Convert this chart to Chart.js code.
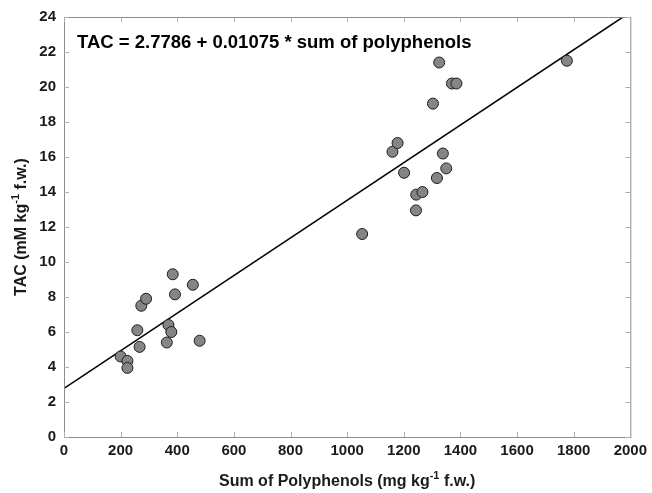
<!DOCTYPE html>
<html>
<head>
<meta charset="utf-8">
<script src="https://cdn.jsdelivr.net/npm/chart.js@4/dist/chart.umd.min.js"></script>
<style>
  html, body { margin: 0; padding: 0; background: #fff; }
  #wrap { width: 652px; height: 493px; }
</style>
</head>
<body>
<div id="wrap"><canvas id="chart"></canvas></div>
<script>
'use strict';

// Messpunkte: Summe Polyphenole (mg/kg) gegen TAC (mM/kg)
const polyphenols = [
  200, 224, 224, 267, 259, 273, 290, 363, 369, 379, 384, 392, 455, 479,
  1053, 1160, 1178, 1201, 1243, 1244, 1266, 1303, 1317, 1325, 1338, 1350,
  1370, 1386, 1776,
];
const tac = [
  4.6, 4.35, 3.95, 5.15, 6.1, 7.5, 7.9, 5.4, 6.4, 6.0, 9.3, 8.15, 8.7, 5.5,
  11.6, 16.3, 16.8, 15.1, 12.95, 13.85, 14.0, 19.05, 14.8, 21.4, 16.2, 15.35,
  20.2, 20.2, 21.5,
];

// Regressionsgerade laut Gleichung im Diagramm
const intercept = 2.7786;
const slope = 0.01075;
const lineX = [0, 1974];

const xTicks = [0, 200, 400, 600, 800, 1000, 1200, 1400, 1600, 1800, 2000];
const yTicks = [0, 2, 4, 6, 8, 10, 12, 14, 16, 18, 20, 22, 24];

const FONT = '"Liberation Sans", Arial, sans-serif';

// Rahmen, innere Ticks, Gleichung und Achsentitel
const framePlugin = {
  id: 'frame',
  afterDraw(chart) {
    const { ctx, chartArea: a, scales } = chart;
    ctx.save();
    ctx.strokeStyle = '#8c8c8c';
    ctx.lineWidth = 1;
    ctx.strokeRect(a.left + 0.5, a.top + 0.5, a.right - a.left, a.bottom - a.top);

    ctx.strokeStyle = '#b0b0b0';
    ctx.beginPath();
    xTicks.forEach(v => {
      const x = Math.round(scales.x.getPixelForValue(v)) + 0.5;
      ctx.moveTo(x, a.bottom);
      ctx.lineTo(x, a.bottom - 5);
      ctx.moveTo(x, a.top);
      ctx.lineTo(x, a.top + 5);
    });
    yTicks.forEach(v => {
      const y = Math.round(scales.y.getPixelForValue(v)) + 0.5;
      ctx.moveTo(a.left, y);
      ctx.lineTo(a.left + 5, y);
      ctx.moveTo(a.right, y);
      ctx.lineTo(a.right - 5, y);
    });
    ctx.stroke();

    ctx.fillStyle = '#000';
    ctx.font = `bold 18.5px ${FONT}`;
    ctx.textBaseline = 'alphabetic';
    ctx.textAlign = 'left';
    ctx.fillText('TAC = 2.7786 + 0.01075 * sum of polyphenols', a.left + 13, a.top + 31);

    // Achsentitel mit Hochzahl
    const drawTitle = (parts, cx, cy, rotate) => {
      ctx.save();
      ctx.translate(cx, cy);
      if (rotate) ctx.rotate(-Math.PI / 2);
      let total = 0;
      parts.forEach(p => {
        ctx.font = `bold ${p.sup ? 11 : 16}px ${FONT}`;
        total += ctx.measureText(p.t).width;
      });
      let x = -total / 2;
      ctx.textAlign = 'left';
      parts.forEach(p => {
        ctx.font = `bold ${p.sup ? 11 : 16}px ${FONT}`;
        ctx.fillText(p.t, x, p.sup ? -1 : 6);
        x += ctx.measureText(p.t).width;
      });
      ctx.restore();
    };
    ctx.fillStyle = '#1a1a1a';
    drawTitle(
      [{ t: 'Sum of Polyphenols (mg kg' }, { t: '-1', sup: true }, { t: ' f.w.)' }],
      (a.left + a.right) / 2, 480, false
    );
    drawTitle(
      [{ t: 'TAC (mM kg' }, { t: '-1', sup: true }, { t: ' f.w.)' }],
      20, (a.top + a.bottom) / 2, true
    );
    ctx.restore();
  },
};

new Chart(document.getElementById('chart'), {
  type: 'scatter',
  data: {
    datasets: [
      {
        label: 'Proben',
        data: polyphenols.map((x, i) => ({ x, y: tac[i] })),
        backgroundColor: '#858585',
        borderColor: '#1e1e1e',
        borderWidth: 1,
        pointRadius: 5.5,
        order: 1,
      },
      {
        label: 'Regression',
        type: 'line',
        data: lineX.map(x => ({ x, y: intercept + slope * x })),
        borderColor: '#000',
        borderWidth: 1.5,
        pointRadius: 0,
        fill: false,
        order: 2,
      },
    ],
  },
  options: {
    responsive: true,
    maintainAspectRatio: false,
    animation: false,
    layout: { padding: { left: 0, right: 20, top: 16, bottom: 0 } },
    plugins: {
      legend: { display: false },
      tooltip: { enabled: false },
    },
    scales: {
      x: {
        type: 'linear',
        min: 0,
        max: 2000,
        afterBuildTicks: s => { s.ticks = xTicks.map(value => ({ value })); },
        afterFit: s => { s.height = 56; },
        grid: { display: false, drawTicks: false },
        border: { display: false },
        ticks: {
          padding: 5,
          color: '#1a1a1a',
          font: { family: FONT, size: 15, weight: 'bold' },
          maxRotation: 0,
          callback: value => String(value),
        },
      },
      y: {
        type: 'linear',
        min: 0,
        max: 24,
        afterBuildTicks: s => { s.ticks = yTicks.map(value => ({ value })); },
        afterFit: s => { s.width = 64; },
        grid: { display: false, drawTicks: false },
        border: { display: false },
        ticks: {
          padding: 8,
          color: '#1a1a1a',
          font: { family: FONT, size: 15, weight: 'bold' },
          callback: value => String(value),
        },
      },
    },
  },
  plugins: [framePlugin],
});
</script>
</body>
</html>
